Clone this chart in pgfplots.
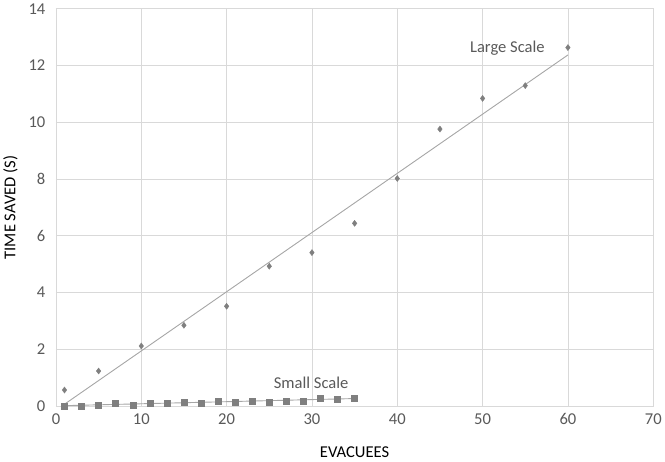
\documentclass[border=0pt]{standalone}
\usepackage{fontspec}
\setmainfont{Carlito}
\usepackage{pgfplots}
\pgfplotsset{compat=1.18}

\definecolor{txt}{HTML}{595959}
\definecolor{gridc}{HTML}{D9D9D9}
\definecolor{ptc}{HTML}{7F7F7F}
\definecolor{trend}{HTML}{A6A6A6}

\begin{document}
\begin{tikzpicture}
\begin{axis}[
  scale only axis,
  width=595pt, height=396pt,
  xmin=0, xmax=70, ymin=0, ymax=14,
  xtick={0,10,...,70}, ytick={0,2,...,14},
  grid=major, grid style={gridc, line width=0.8pt},
  axis line style={gridc, line width=0.8pt},
  major tick length=0pt,
  font=\fontsize{16.5}{19}\selectfont,
  every tick label/.append style={txt},
  /pgf/number format/assume math mode=true,
  xticklabel style={yshift=-4pt},
  yticklabel style={xshift=-7pt},
  xlabel={EVACUEES}, ylabel={TIME SAVED (S)},
  label style={txt},
  every axis x label/.style={at={(axis description cs:0.5,-0.116)}, anchor=center},
  every axis y label/.style={at={(axis description cs:-0.076,0.5)}, rotate=90, anchor=center},
  clip=false,
]
% Large scale
\addplot[only marks, mark=diamond*, mark size=3pt, color=ptc] coordinates {
  (1,0.57) (5,1.24) (10,2.12) (15,2.85) (20,3.52) (25,4.93) (30,5.41)
  (35,6.44) (40,8.02) (45,9.76) (50,10.84) (55,11.29) (60,12.63)
};
\addplot[trend, line width=0.9pt] coordinates {(1,0.07) (60,12.37)};

% Small scale
\addplot[only marks, mark=square*, mark size=3pt, color=ptc] coordinates {
  (1,0.00) (3,0.00) (5,0.04) (7,0.10) (9,0.02) (11,0.10) (13,0.10) (15,0.13)
  (17,0.10) (19,0.16) (21,0.13) (23,0.16) (25,0.13) (27,0.18) (29,0.18)
  (31,0.27) (33,0.26) (35,0.29)
};
\addplot[trend, line width=0.9pt] coordinates {(1,0.02) (35,0.27)};

\node[txt, anchor=center] at (axis cs:52.9,12.6) {Large Scale};
\node[txt, anchor=center] at (axis cs:29.9,0.83) {Small Scale};
\end{axis}
\end{tikzpicture}
\end{document}
